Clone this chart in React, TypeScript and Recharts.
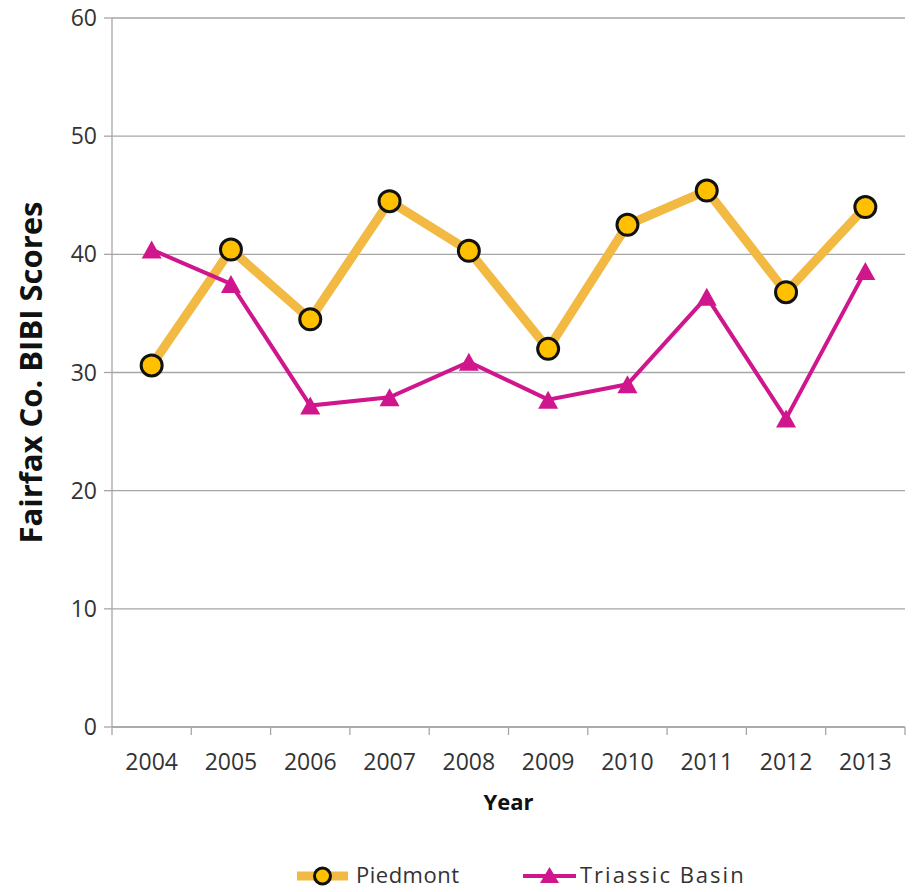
import { LineChart, Line, XAxis, YAxis, CartesianGrid, Legend, Label } from 'recharts'

const years = [2004, 2005, 2006, 2007, 2008, 2009, 2010, 2011, 2012, 2013]
const piedmont = [30.6, 40.4, 34.5, 44.5, 40.3, 32.0, 42.5, 45.4, 36.8, 44.0]
const triassicBasin = [40.4, 37.5, 27.2, 27.9, 30.9, 27.7, 29.0, 36.4, 26.1, 38.6]
const yTicks = [0, 10, 20, 30, 40, 50, 60]

const GOLD_LINE = '#F2B943'
const GOLD_DOT = '#FFC000'
const MAGENTA = '#D0168C'
const GRID = '#A6A6A6'
const TEXT = '#333333'
const FONT = '"Open Sans", sans-serif'

const data = years.map((year, i) => ({
  year,
  piedmont: piedmont[i],
  triassic: triassicBasin[i],
}))

// year labels at band centres, tick marks on the band edges between them
const bandEdges = [...years.map((y) => y - 0.5), years[years.length - 1] + 0.5]
const xTicks = [...bandEdges, ...years].sort((a, b) => a - b)

function YearTick(props: any) {
  const { x, y, payload } = props
  const v = payload.value as number
  if (Number.isInteger(v)) {
    return (
      <text x={x} y={y + 27} dy="0.71em" textAnchor="middle" fill={TEXT} fontSize={23} fontFamily={FONT}>
        {v}
      </text>
    )
  }
  return <line x1={x} y1={y} x2={x} y2={y + 8} stroke={GRID} strokeWidth={1.3} />
}

function CircleDot(props: any) {
  const { cx, cy } = props
  if (cx == null || cy == null) return null
  return <circle cx={cx} cy={cy} r={10.5} fill={GOLD_DOT} stroke="#111" strokeWidth={3} />
}

function TriangleDot(props: any) {
  const { cx, cy } = props
  if (cx == null || cy == null) return null
  const w = 10
  const h = 18
  return (
    <path
      d={`M${cx},${cy - h / 2} L${cx + w},${cy + h / 2} L${cx - w},${cy + h / 2} Z`}
      fill={MAGENTA}
    />
  )
}

function ChartLegend() {
  const item = {
    position: 'absolute' as const,
    top: 0,
    display: 'flex',
    alignItems: 'center',
    height: 26,
  }
  return (
    <div
      style={{
        position: 'relative',
        height: 26,
        fontFamily: FONT,
        fontSize: 22,
        lineHeight: '26px',
        color: TEXT,
      }}
    >
      <div style={{ ...item, left: 297 }}>
        <svg width={52} height={26}>
          <line x1={0} y1={15} x2={51} y2={15} stroke={GOLD_LINE} strokeWidth={9} />
          <circle cx={25.5} cy={15} r={8} fill={GOLD_DOT} stroke="#111" strokeWidth={3} />
        </svg>
        <span style={{ marginLeft: 7, letterSpacing: 0.5 }}>Piedmont</span>
      </div>
      <div style={{ ...item, left: 523 }}>
        <svg width={53} height={26}>
          <line x1={0} y1={15} x2={53} y2={15} stroke={MAGENTA} strokeWidth={4} />
          <path d="M26.5,6 L36,22 L17,22 Z" fill={MAGENTA} />
        </svg>
        <span style={{ marginLeft: 4, letterSpacing: 2 }}>Triassic Basin</span>
      </div>
    </div>
  )
}

export default function App() {
  return (
    <div style={{ position: 'absolute', left: 0, top: 0, width: 915, height: 892, background: '#fff' }}>
      <LineChart
        width={915}
        height={892}
        data={data}
        margin={{ top: 18, right: 10, bottom: 49, left: 0 }}
      >
        <CartesianGrid vertical={false} stroke={GRID} strokeWidth={1.3} />
        <XAxis
          dataKey="year"
          type="number"
          domain={[2003.5, 2013.5]}
          ticks={xTicks}
          interval={0}
          height={90}
          axisLine={{ stroke: GRID, strokeWidth: 1.3 }}
          tickLine={false}
          tickSize={0}
          tickMargin={0}
          tick={<YearTick />}
        >
          <Label
            value="Year"
            position="insideBottom"
            offset={7}
            style={{ fill: '#111', fontSize: 22, fontWeight: 700, fontFamily: FONT }}
          />
        </XAxis>
        <YAxis
          domain={[0, 60]}
          ticks={yTicks}
          width={112}
          axisLine={{ stroke: GRID, strokeWidth: 1.3 }}
          tickLine={{ stroke: GRID, strokeWidth: 1.3 }}
          tickSize={8}
          tickMargin={7}
          tick={{ fill: TEXT, fontSize: 23, fontFamily: FONT }}
        >
          <Label
            value="Fairfax Co. BIBI Scores"
            angle={-90}
            position="insideLeft"
            offset={31}
            style={{ fill: '#111', fontSize: 31, fontWeight: 700, fontFamily: FONT, textAnchor: 'middle' }}
          />
        </YAxis>
        <Legend
          verticalAlign="bottom"
          wrapperStyle={{ top: 861, bottom: 'auto', left: 0, width: 915 }}
          content={() => <ChartLegend />}
        />
        <Line
          dataKey="piedmont"
          name="Piedmont"
          stroke={GOLD_LINE}
          strokeWidth={9}
          dot={<CircleDot />}
          activeDot={false}
          isAnimationActive={false}
        />
        <Line
          dataKey="triassic"
          name="Triassic Basin"
          stroke={MAGENTA}
          strokeWidth={4}
          dot={<TriangleDot />}
          activeDot={false}
          isAnimationActive={false}
        />
      </LineChart>
    </div>
  )
}
